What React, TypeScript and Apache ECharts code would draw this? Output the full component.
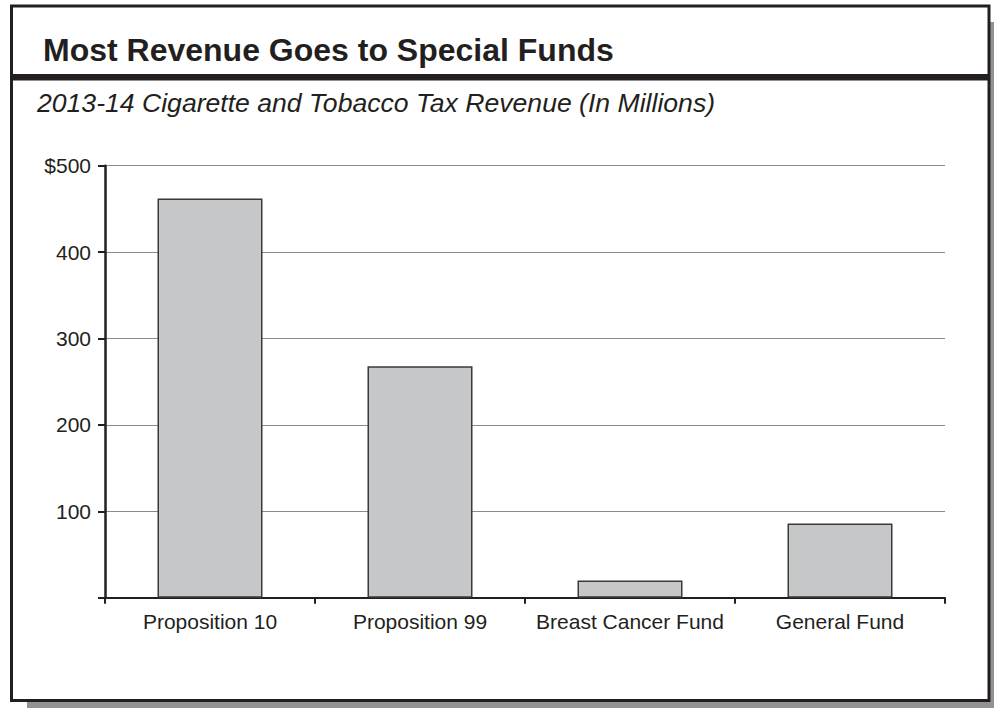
import React, { useEffect, useRef } from "react";
import * as echarts from "echarts";

const categories = ["Proposition 10", "Proposition 99", "Breast Cancer Fund", "General Fund"];
const revenue = [462, 268, 20, 86];
const yTicks = [0, 100, 200, 300, 400, 500];
const titleText = "Most Revenue Goes to Special Funds";
const subtitleText = "2013-14 Cigarette and Tobacco Tax Revenue (In Millions)";

const FONT = "'Liberation Sans', Arial, Helvetica, sans-serif";
const DARK = "#231f20";

export default function App() {
  const ref = useRef<HTMLDivElement>(null);
  useEffect(() => {
    if (!ref.current) return;
    const chart = echarts.init(ref.current, null, { renderer: "svg" });
    chart.setOption({
      animation: false,
      backgroundColor: "#ffffff",
      graphic: [
        { type: "rect", z: -10, shape: { x: 27, y: 22, width: 967, height: 686 }, style: { fill: "#939393" } },
        { type: "rect", z: -9, shape: { x: 11.5, y: 6, width: 977.5, height: 694.5 }, style: { fill: "#ffffff", stroke: DARK, lineWidth: 3 } },
        { type: "rect", z: -8, shape: { x: 11.5, y: 74, width: 977.5, height: 6.5 }, style: { fill: DARK } },
        {
          type: "text", x: 43, y: 50, style: {
            text: titleText, fontFamily: FONT, fontWeight: "bold", fontSize: 32,
            fill: DARK, verticalAlign: "middle", align: "left",
          },
        },
        {
          type: "text", x: 37, y: 103, style: {
            text: subtitleText, fontFamily: FONT, fontStyle: "italic", fontSize: 26.6,
            fill: DARK, verticalAlign: "middle", align: "left",
          },
        },
      ],
      grid: { left: 105, right: 50, top: 165.7, bottom: 110.3, containLabel: false },
      xAxis: {
        type: "category",
        data: categories,
        axisLine: { lineStyle: { color: DARK, width: 2 } },
        axisTick: { show: true, length: 6, lineStyle: { color: DARK, width: 2 } },
        axisLabel: { color: DARK, fontFamily: FONT, fontSize: 21, margin: 13, interval: 0 },
      },
      yAxis: {
        type: "value",
        min: 0,
        max: 500,
        interval: 100,
        axisLine: { show: true, lineStyle: { color: DARK, width: 2.5 } },
        axisTick: { show: true, length: 7, lineStyle: { color: DARK, width: 2 } },
        axisLabel: {
          color: DARK, fontFamily: FONT, fontSize: 21, margin: 14,
          formatter: (v: number) => (v === 0 ? "" : v === yTicks[yTicks.length - 1] ? "$" + v : String(v)),
        },
        splitLine: { show: true, lineStyle: { color: "#8a8a8a", width: 1 } },
      },
      series: [
        {
          type: "bar",
          data: revenue,
          barWidth: "50%",
          itemStyle: { color: "#c6c7c9", borderColor: "#3a3a3a", borderWidth: 1.5 },
        },
      ],
    });
    return () => chart.dispose();
  }, []);
  return <div ref={ref} style={{ width: 995, height: 708, position: "absolute", left: 0, top: 0 }} />;
}
